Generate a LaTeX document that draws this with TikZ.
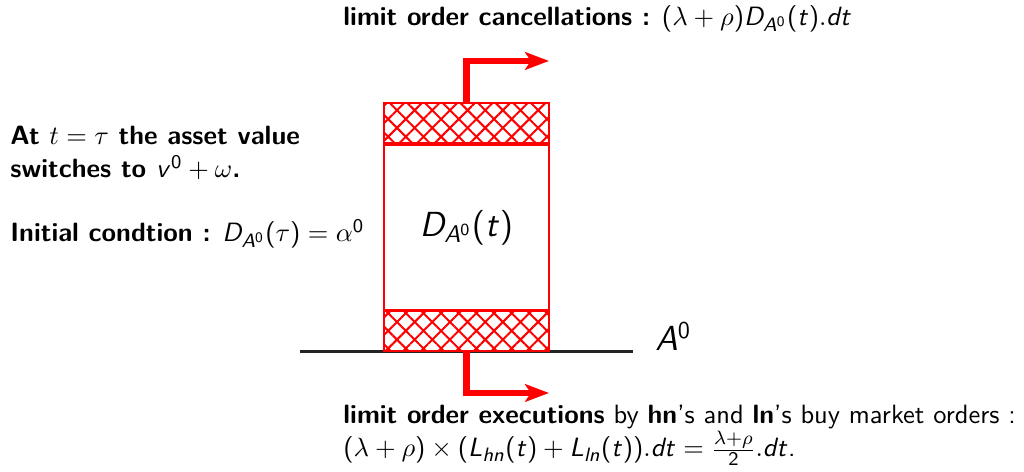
\documentclass[tikz,border=0pt]{standalone}
\usepackage{amsmath}
\usetikzlibrary{arrows.meta,patterns.meta,positioning}
\renewcommand{\familydefault}{\sfdefault}
\definecolor{lobred}{RGB}{255,0,0}
\definecolor{lobgray}{RGB}{35,35,35}
% sans math letters and digits, greek stays serif
\makeatletter
\SetSymbolFont{operators}{normal}{OT1}{cmss}{m}{n}
\DeclareSymbolFont{sfletters}{OT1}{cmss}{m}{sl}
\count@=`a
\loop\ifnum\count@<`\{ \mathcode\count@=\numexpr"7000+\symsfletters*"100+\count@\relax\advance\count@ 1 \repeat
\count@=`A
\loop\ifnum\count@<`\[ \mathcode\count@=\numexpr"7000+\symsfletters*"100+\count@\relax\advance\count@ 1 \repeat
\makeatother
\DeclareMathSymbol{\serift}{\mathalpha}{letters}{`t}

\begin{document}
\fontsize{10.95}{13.6}\selectfont
\begin{tikzpicture}[
  band/.style={draw=lobred, line width=0.83pt, minimum width=2.398cm, minimum height=0.581cm, inner sep=0pt,
    pattern={Hatch[angle=45,distance=5.16pt,line width=0.83pt]}, pattern color=lobred},
  stock/.style={draw=lobred, line width=0.83pt, minimum width=2.398cm, minimum height=2.398cm, inner sep=0pt},
  flow/.style={lobred, line width=2.77pt, -{Stealth[length=9.9pt,width=7.3pt,inset=2.4pt]}},
  txt/.style={anchor=base west, inner sep=0pt}
]
\useasboundingbox (0,0) rectangle (14.884,6.860);

\coordinate (lineL) at (4.360,1.751);
\coordinate (lineR) at (9.201,1.751);
\draw[lobgray, line width=0.83pt] (lineL) -- (lineR);

\node[stock, font=\Large] (stock) at (6.781,3.554) {$D_{A^0}(t)$};
\node[band] (cancelband) at (6.781,5.073) {};
\node[band] (execband) at (6.781,2.042) {};
\node[txt, font=\Large] (level) at (9.520,1.759) {$A^0$};

\coordinate (cancelend) at (7.980,5.974);
\coordinate (execend) at (7.980,1.148);
\draw[flow] (cancelband.north) |- (cancelend);
\draw[flow] (execband.south) |- (execend);

\node[txt] (canceltxt) at (4.985,6.483) {\textbf{limit order cancellations :} $(\lambda+\rho)D_{A^0}(t).dt$};

\node[txt] (switchtxt) at (0.145,4.753) {\textbf{At $\serift=\tau$ the asset value}};
\node[txt] (switchtxt2) at ([yshift=-0.478cm]switchtxt.base west) {\textbf{switches to $v^0+\omega$.}};
\node[txt] (inittxt) at (0.145,3.343) {\textbf{Initial condtion :} $D_{A^0}(\tau)=\alpha^0$};

\node[txt] (exectxt) at (4.985,0.698) {\textbf{limit order executions} by \textbf{hn}'s and \textbf{ln}'s buy market orders :};
\node[txt] (exectxt2) at ([yshift=-0.478cm]exectxt.base west) {$(\lambda+\rho)\times(L_{hn}(t)+L_{ln}(t)).dt=\frac{\lambda+\rho}{2}.dt$.};
\end{tikzpicture}
\end{document}
